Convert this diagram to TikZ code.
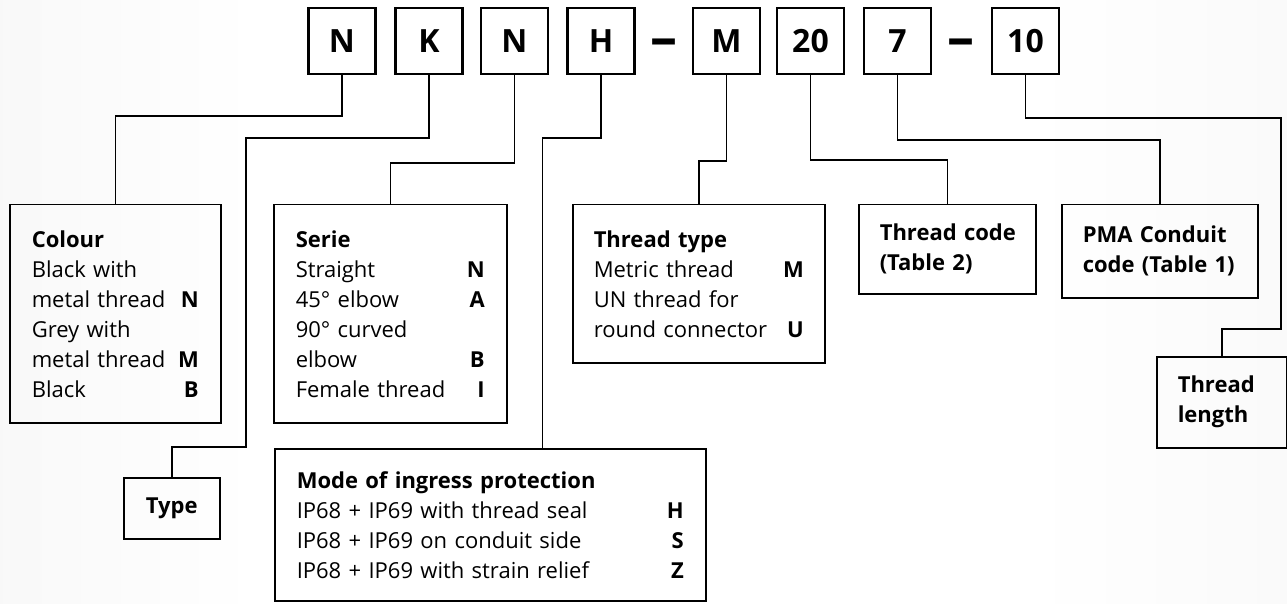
\documentclass[tikz,border=0pt]{standalone}
\usepackage{fontspec}
\setmainfont{Open Sans}
\usetikzlibrary{positioning,calc}
\pgfdeclarehorizontalshading{pagebg}{100bp}{color(0bp)=(black!9); color(35bp)=(white); color(65bp)=(white); color(100bp)=(black!7)}

\begin{document}
\begin{tikzpicture}[x=1pt,y=-1pt,
  letterbox/.style={draw, line width=2.2pt, minimum width=67pt, minimum height=66pt, inner sep=0pt, font=\fontsize{32}{36}\selectfont\bfseries},
  dashmark/.style={inner sep=0pt, font=\fontsize{54}{56}\selectfont\bfseries},
  infobox/.style={draw, line width=1.5pt, anchor=north west, align=left, inner xsep=22pt, inner ysep=0pt, font=\fontsize{22}{30}\selectfont},
  link/.style={line width=1.5pt}]
\useasboundingbox (0,0) rectangle (1287,604);
\shade[shading=pagebg] (0,0) rectangle (1287,604);

% code letters
\node[letterbox] (n1) at (342,41) {N};
\node[letterbox] (k) at (429,41) {K};
\node[letterbox] (n2) at (514.5,41) {N};
\node[letterbox] (h) at (601,41) {H};
\node[dashmark] (dash1) at (664,48) {–};
\node[letterbox] (m) at (726.5,41) {M};
\node[letterbox] (b20) at (810.5,41) {20};
\node[letterbox] (b7) at (897.5,41) {7};
\node[dashmark] (dash2) at (961,48) {–};
\node[letterbox] (b10) at (1025.5,41) {10};

% description boxes
\node[infobox, minimum width=211pt, minimum height=218pt, text width=167pt] (colour) at (9,204)
  {\textbf{Colour}\\Black with\\metal thread\hfill\textbf{N}\\Grey with\\metal thread\hfill\textbf{M}\\Black\hfill\textbf{B}};
\node[infobox, minimum width=233pt, minimum height=218pt, text width=189pt] (serie) at (273,204)
  {\textbf{Serie}\\Straight\hfill\textbf{N}\\45° elbow\hfill\textbf{A}\\90° curved\\elbow\hfill\textbf{B}\\Female thread\hfill\textbf{I}};
\node[infobox, minimum width=252pt, minimum height=158pt, text width=210pt, inner xsep=21pt] (ttype) at (572,204)
  {\textbf{Thread type}\\Metric thread\hfill\textbf{M}\\UN thread for\\round connector\hfill\textbf{U}};
\node[infobox, minimum width=177pt, minimum height=89pt, text width=135pt, inner xsep=21pt] (tcode) at (858,204)
  {\textbf{Thread~code}\\\textbf{(Table~2)}};
\node[infobox, minimum width=196pt, minimum height=93pt, text width=154pt, inner xsep=21pt] (pma) at (1061,204)
  {\textbf{PMA~Conduit}\\\textbf{code~(Table~1)}};
\node[infobox, minimum width=130pt, minimum height=91pt, text width=88pt, inner xsep=21pt] (tlen) at (1156,356)
  {\textbf{Thread}\\\textbf{length}};
\node[infobox, minimum width=96pt, minimum height=61pt, text width=96pt, inner xsep=0pt, align=center] (type) at (123,477)
  {\textbf{Type}};
\node[infobox, minimum width=431pt, minimum height=152pt, text width=387pt] (mode) at (274,448)
  {\textbf{Mode of ingress protection}\\IP68 + IP69 with thread seal\hfill\textbf{H}\\IP68 + IP69 on conduit side\hfill\textbf{S}\\IP68 + IP69 with strain relief\hfill\textbf{Z}};

% connectors
\draw[link] (n1.south) -- ++(0,41) -| (colour.north);
\draw[link] (k.south) -- ++(0,63) -| (246,447) -| (type.north);
\draw[link] (n2.south) -- ++(0,88) -| (serie.north);
\draw[link] (h.south) -- ++(0,63) -| ([xshift=52pt]mode.north);
\draw[link] (m.south) -- ++(0,86) -| (ttype.north);
\draw[link] (b20.south) -- ++(0,85) -| (tcode.north);
\draw[link] (b7.south) -- ++(0,65) -| (pma.north);
\draw[link] (b10.south) -- ++(0,43) -| (1281,329) -| (tlen.north);
\end{tikzpicture}
\end{document}
